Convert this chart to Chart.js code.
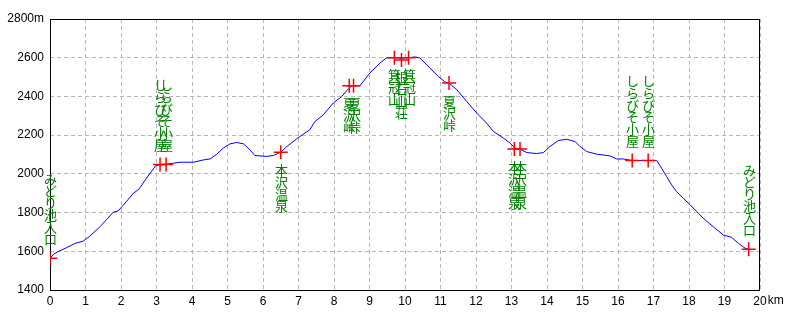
<!DOCTYPE html>
<html>
<head>
<meta charset="utf-8">
<script src="https://cdn.jsdelivr.net/npm/chart.js@4/dist/chart.umd.min.js"></script>
<style>
html,body{margin:0;padding:0;background:#fff;}
#wrap{width:800px;height:320px;}
</style>
</head>
<body>
<div id="wrap"><canvas id="c" width="800" height="320"></canvas></div>
<script>
// Profile: distance (km) and elevation (m)
const distKm = [0.00,0.10,0.25,0.47,0.70,0.94,1.10,1.41,1.60,1.78,1.92,2.05,2.35,2.50,2.72,2.98,3.20,3.47,3.66,4.04,4.32,4.51,4.70,4.88,5.07,5.26,5.45,5.63,5.77,6.10,6.29,6.50,6.67,6.95,7.04,7.32,7.46,7.70,7.98,8.22,8.40,8.50,8.73,9.01,9.30,9.48,9.70,9.90,10.10,10.28,10.42,10.70,10.94,11.13,11.24,11.46,11.74,12.02,12.30,12.49,12.77,12.96,13.10,13.24,13.43,13.71,13.90,14.08,14.32,14.55,14.79,14.93,15.12,15.40,15.77,15.96,16.15,16.40,16.85,17.09,17.23,17.37,17.51,17.65,17.84,18.03,18.22,18.40,18.68,18.97,19.20,19.39,19.58,19.68];
const elevM = [1564,1585,1600,1619,1640,1653,1675,1727,1765,1802,1809,1835,1900,1920,1978,2043,2048,2055,2060,2060,2072,2077,2102,2133,2155,2162,2155,2124,2095,2090,2095,2112,2141,2181,2193,2228,2270,2305,2366,2400,2438,2455,2455,2521,2573,2599,2600,2598,2600,2604,2599,2547,2503,2474,2469,2434,2374,2314,2262,2219,2185,2159,2133,2128,2110,2105,2110,2141,2172,2179,2167,2141,2115,2102,2093,2077,2077,2069,2069,2069,2029,1986,1943,1908,1874,1840,1805,1771,1727,1684,1672,1641,1616,1610];

// Waypoints
const wpKm   = [0, 3.10, 3.27, 6.50, 8.43, 8.55, 9.70, 9.90, 10.10, 11.24, 13.08, 13.24, 16.40, 16.85, 19.68];
const wpElev = [1564, 2048, 2048, 2112, 2455, 2455, 2600, 2588, 2600, 2469, 2128, 2128, 2069, 2069, 1610];
const wpName = ['みどり池入口','しらびそ小屋','しらびそ小屋','本沢温泉','夏沢峠','夏沢峠','箕冠山','根石山荘','箕冠山','夏沢峠','本沢温泉','本沢温泉','しらびそ小屋','しらびそ小屋','みどり池入口'];
const wpSide = ['up','up','up','down','down','down','down','down','down','down','down','down','up','up','up'];

// Axis ticks
const xTicks = [0,1,2,3,4,5,6,7,8,9,10,11,12,13,14,15,16,17,18,19,20];
const yTicks = [1400,1600,1800,2000,2200,2400,2600,2800];
const xUnit = 'km';
const yUnit = 'm';

const tickFont = {family: "'Liberation Sans Narrow','Liberation Sans',sans-serif", size: 12};

const overlay = {
  id: 'overlay',
  beforeDatasetsDraw(chart) {
    const {ctx, chartArea: a} = chart;
    ctx.save();
    ctx.strokeStyle = '#000';
    ctx.lineWidth = 1;
    ctx.strokeRect(a.left + 0.5, a.top + 0.5, a.right - a.left - 1, a.bottom - a.top);
    ctx.restore();
  },
  afterDatasetsDraw(chart) {
    const {ctx, scales: {x, y}} = chart;
    ctx.save();
    ctx.fillStyle = '#008000';
    ctx.font = "13px 'Noto Sans CJK JP'";
    ctx.textAlign = 'center';
    ctx.textBaseline = 'top';
    const pitch = 12;
    wpName.forEach((name, i) => {
      const px = Math.round(x.getPixelForValue(wpKm[i]));
      const py = y.getPixelForValue(wpElev[i]);
      const chars = Array.from(name);
      const start = wpSide[i] === 'up' ? py - 14 - chars.length * pitch : py + 11;
      chars.forEach((ch, k) => ctx.fillText(ch, px + 0.5, start + k * pitch));
    });
    // unit after last x tick
    ctx.fillStyle = '#000';
    ctx.font = "12px 'Liberation Sans Narrow','Liberation Sans',sans-serif";
    ctx.textAlign = 'left';
    ctx.textBaseline = 'middle';
    const last = xTicks[xTicks.length - 1];
    const lx = x.getPixelForValue(last) + ctx.measureText(String(last)).width / 2 + 1;
    ctx.fillText(xUnit, lx, chart.chartArea.bottom + 11);
    ctx.restore();
  }
};

new Chart(document.getElementById('c'), {
  type: 'scatter',
  data: {
    datasets: [
      {
        data: wpKm.map((k, i) => ({x: k, y: wpElev[i]})),
        showLine: false,
        pointStyle: 'cross',
        pointRadius: 7,
        pointBorderWidth: 1.5,
        pointBorderColor: '#ff0000',
        pointBackgroundColor: '#ff0000'
      },
      {
        data: distKm.map((k, i) => ({x: k, y: elevM[i]})),
        showLine: true,
        borderColor: '#0000ff',
        borderWidth: 1,
        pointRadius: 0,
        tension: 0
      }
    ]
  },
  options: {
    responsive: false,
    animation: false,
    devicePixelRatio: 1,
    layout: {padding: {top: 19, right: 40, left: 0, bottom: 0}},
    plugins: {legend: {display: false}, tooltip: {enabled: false}},
    scales: {
      x: {
        type: 'linear',
        min: xTicks[0], max: xTicks[xTicks.length - 1],
        afterFit: s => { s.height = 30; },
        afterBuildTicks: s => { s.ticks = xTicks.map(v => ({value: v})); },
        ticks: {color: '#000', font: tickFont, padding: 4, maxRotation: 0, autoSkip: false,
                callback: v => String(v)},
        grid: {color: '#b8b8b8', lineWidth: 1, drawTicks: false},
        border: {display: false, dash: [4, 3]}
      },
      y: {
        type: 'linear',
        min: yTicks[0], max: yTicks[yTicks.length - 1],
        afterFit: s => { s.width = 50; },
        afterBuildTicks: s => { s.ticks = yTicks.map(v => ({value: v})); },
        ticks: {color: '#000', font: tickFont, padding: 6, autoSkip: false,
                callback: v => v === yTicks[yTicks.length - 1] ? v + yUnit : String(v)},
        grid: {color: '#b8b8b8', lineWidth: 1, drawTicks: false},
        border: {display: false, dash: [4, 3]}
      }
    }
  },
  plugins: [overlay]
});
</script>
</body>
</html>
